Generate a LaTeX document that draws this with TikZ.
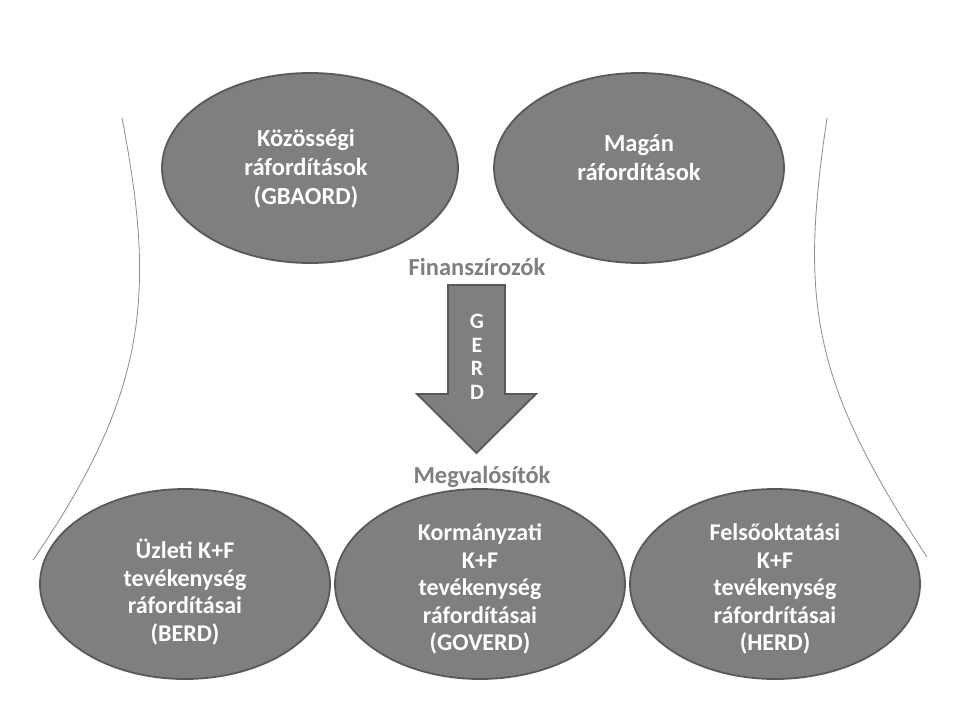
\documentclass[tikz,border=0pt]{standalone}
\usepackage{fontspec}
\setmainfont{Carlito}
\usepackage{tikz}
\usepackage{xcolor}
\usetikzlibrary{shapes.geometric}

\definecolor{blobgray}{HTML}{7F7F7F}
\definecolor{rimgray}{HTML}{595959}
\definecolor{linegray}{HTML}{8C8C8C}

\begin{document}
\begin{tikzpicture}[x=1pt,y=-1pt,
		blob/.style={ellipse,draw=rimgray,fill=blobgray,line width=1.8pt,minimum width=290pt,minimum height=190pt,inner sep=0pt},
		bigtext/.style={text=white,font=\bfseries\fontsize{24.5}{29}\selectfont,align=center},
		smalltext/.style={text=white,font=\bfseries\fontsize{24}{27.5}\selectfont,align=center},
		caption/.style={text=blobgray,font=\bfseries\fontsize{24.5}{29}\selectfont,anchor=base},
		side/.style={draw=linegray,line width=0.8pt}]
			\useasboundingbox (0,0) rectangle (960,720);

			\draw[side] (122,118) .. controls (155,290) and (150,390) .. (33,560);
			\draw[side] (827,118) .. controls (800,300) and (810,380) .. (927,557);

			\node[blob,minimum width=296pt] (kozos) at (310,168) {};
			\node[bigtext] (kozostxt) at ([xshift=-4pt,yshift=-1pt]kozos.center) {Közösségi\\ráfordítások\\(GBAORD)};
			\node[blob] (magan) at (639,168) {};
			\node[bigtext] (magantxt) at ([yshift=10pt]magan.center) {Magán\\ráfordítások};

			\node[caption] (fin) at (477,275) {Finanszírozók};
			\draw[fill=blobgray,draw=rimgray,line width=1.8pt] (448,285) -- (505,285) -- (505,394) -- (536,394) -- (476.5,453) -- (417,394) -- (448,394) -- cycle;
			\node[text=white,font=\bfseries\fontsize{22}{23.5}\selectfont,align=center] (gerd) at (477,357) {G\\E\\R\\D};
			\node[caption] (meg) at (482,483) {Megvalósítók};

			\node[blob] (berd) at (185,584) {};
			\node[smalltext] (berdtxt) at ([yshift=-8pt]berd.center) {Üzleti K+F\\tevékenység\\ráfordításai\\(BERD)};
			\node[blob] (goverd) at (480,584) {};
			\node[smalltext] (goverdtxt) at ([yshift=-5pt]goverd.center) {Kormányzati\\K+F\\tevékenység\\ráfordításai\\(GOVERD)};
			\node[blob] (herd) at (775,584) {};
			\node[smalltext] (herdtxt) at ([yshift=-5pt]herd.center) {Felsőoktatási\\K+F\\tevékenység\\ráfordrításai\\(HERD)};
		\end{tikzpicture}
\end{document}
